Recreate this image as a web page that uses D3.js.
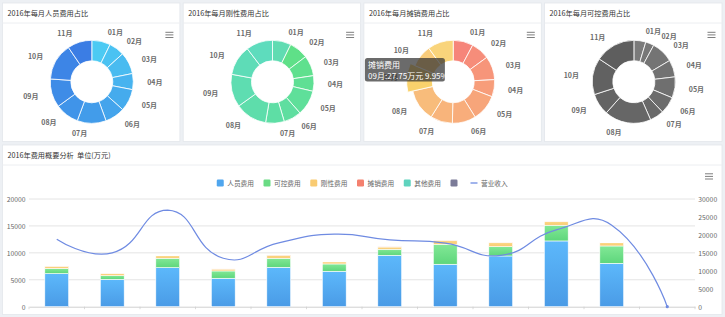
<!DOCTYPE html>
<html><head><meta charset="utf-8">
<script src="https://cdn.jsdelivr.net/npm/d3@7"></script>
<style>
html,body{margin:0;padding:0;background:#edf0f4;}
svg{display:block;font-family:"Noto Sans CJK SC","Noto Sans",sans-serif;}
</style></head><body>
<svg id="c" width="725" height="317"></svg>
<script>
// ---------------- data ----------------
const months = ["01月","02月","03月","04月","05月","06月","07月","08月","09月","10月","11月"];
const categories = ["01月","02月","03月","04月","05月","06月","07月","08月","09月","10月","11月","12月"];
const personnelCost    = [6150, 5090, 7250, 5280, 7320, 6580, 9550, 7880, 9420, 12210, 8060, 0];
const controllableCost = [ 950,  670, 1750, 1360, 1680, 1360, 1120, 3720, 1730, 2920, 3220, 0];
const rigidCost        = [ 420,  430,  460,  350,  570,  400,  420,  720,  740,  680,  600, 0];
const amortizationCost = [21.7, 20.1, 25.6, 18.6, 28.7, 25.6, 24.0, 34.9, 27.75, 24.0, 27.9, 0];
const otherCost        = [0, 0, 0, 0, 0, 0, 0, 0, 0, 0, 0, 0];
const revenue          = [18800, 15000, 26900, 13500, 17800, 20200, 18600, 17700, 14300, 21400, 22700, 0];
const leftTicks  = [0, 5000, 10000, 15000, 20000];
const rightTicks = [0, 5000, 10000, 15000, 20000, 25000, 30000];
const pieTitles = ["2016年每月人员费用占比","2016年每月刚性费用占比","2016年每月摊销费用占比","2016年每月可控费用占比"];
const pieSeriesNames = ["人员费用","刚性费用","摊销费用","可控费用"];
const legendNames = ["人员费用","可控费用","刚性费用","摊销费用","其他费用","","营业收入"];
const bottomTitle = "2016年费用概要分析  单位(万元)";
const highlightMonth = 8; // 09月 on 摊销费用 pie (tooltip shown)

// ---------------- styles ----------------
const pieColorFns = [
  i => d3.interpolateRgb("#4ccaf3", "#3b7de4")(i/10),
  i => i === 0 ? "#60dcb2" : d3.interpolateRgb("#5fe088", "#5edcbd")((i-1)/9),
  i => d3.interpolateRgb("#f6857a", "#f9d47b")(i/10),
  i => d3.interpolateRgb("#7a7a7a", "#5e5e5e")(i/10)
];
const seriesColors = ["#50a6ee","#6adb84","#f9cb72","#f4816f","#5fd3be","#7b7b98"];
const lineColor = "#6f8be2";

const svg = d3.select("#c");
const defs = svg.append("defs");
function grad(id, top, bottom){
  const g = defs.append("linearGradient").attr("id", id).attr("x1",0).attr("y1",0).attr("x2",0).attr("y2",1);
  g.append("stop").attr("offset","0%").attr("stop-color", top);
  g.append("stop").attr("offset","100%").attr("stop-color", bottom);
}
grad("gBlue", "#5cb8fb", "#4a9be6");
grad("gGreen", "#82e896", "#5ed67c");
grad("gYellow", "#fcd98a", "#f9c96e");
grad("gRed", "#f58a78", "#f4806f");
grad("gTeal", "#63d8c4", "#5cd0bb");
grad("gDark", "#7e7e9a", "#767694");
const fills = ["url(#gBlue)","url(#gGreen)","url(#gYellow)","url(#gRed)","url(#gTeal)","url(#gDark)"];

svg.append("rect").attr("width",725).attr("height",317).attr("fill","#edf0f4");

function panel(x, y, w, h, title, titleY, divY){
  const g = svg.append("g");
  g.append("rect").attr("x",x).attr("y",y).attr("width",w).attr("height",h)
    .attr("fill","#fff").attr("stroke","#e3e7ec").attr("stroke-width",0.8);
  g.append("line").attr("x1",x).attr("x2",x+w).attr("y1",divY).attr("y2",divY)
    .attr("stroke","#eceef1").attr("stroke-width",1);
  g.append("text").attr("x",x+5).attr("y",titleY).attr("dominant-baseline","central")
    .attr("font-size",7.2).attr("fill","#333").attr("xml:space","preserve").text(title);
  return g;
}
function burger(g, x, y){
  [0,2.6,5.2].forEach(dy=>{
    g.append("line").attr("x1",x).attr("x2",x+8).attr("y1",y+dy).attr("y2",y+dy)
      .attr("stroke","#6f6f6f").attr("stroke-width",0.9);
  });
}

// ---------------- pies ----------------
const pieData = [personnelCost, rigidCost, amortizationCost, controllableCost].map(a => a.slice(0, 11));
const pW = 177.4, pGap = 3.3, pTop = 3, pH = 138.5;
pieData.forEach((vals, k) => {
  const x0 = 2.5 + k*(pW + pGap);
  const g = panel(x0, pTop, pW, pH, pieTitles[k], 13.2, 23);
  burger(g, x0 + pW - 14.5, 32.3);
  const cx = x0 + pW/2 + 0.6, cy = 81.8;
  const pie = d3.pie().sort(null).value(d => d)(vals);
  const arc = d3.arc().innerRadius(21).outerRadius(41.5);
  const arcHi = d3.arc().innerRadius(21).outerRadius(46.5);
  const pg = g.append("g").attr("transform", `translate(${cx},${cy})`);
  pg.selectAll("path").data(pie).enter().append("path")
    .attr("d", (d,i) => (k === 2 && i === highlightMonth) ? arcHi(d) : arc(d))
    .attr("fill", (d,i) => (k === 2 && i === highlightMonth) ? "#f9d26c" : pieColorFns[k](i))
    .attr("stroke","#fff").attr("stroke-width",0.8);
  // label layout with simple overlap avoidance (per side)
  const R = 51, minGap = 5;
  const labels = pie.map((d,i) => {
    const m = (d.startAngle + d.endAngle)/2;
    return {i, side: Math.sin(m) >= 0 ? 1 : -1, y: -R*Math.cos(m)};
  });
  [1,-1].forEach(side => {
    const ls = labels.filter(l => l.side === side).sort((a,b) => a.y - b.y);
    for (let j = 1; j < ls.length; j++) if (ls[j].y - ls[j-1].y < minGap) ls[j].y = ls[j-1].y + minGap;
  });
  labels.forEach(l => { l.x = l.side * (Math.sqrt(Math.max(0, R*R - l.y*l.y)) + 12); });
  pg.selectAll("text").data(labels).enter().append("text")
    .attr("x", l => l.x).attr("y", l => l.y)
    .attr("text-anchor","middle").attr("dominant-baseline","central")
    .attr("font-size",7).attr("font-weight","bold").attr("fill","#6a6a6a")
    .text(l => months[l.i]);
  if (k === 2) {
    const total = d3.sum(vals);
    const v = vals[highlightMonth];
    const tg = g.append("g");
    tg.append("rect").attr("x", x0 + 1).attr("y", 58).attr("width", 80).attr("height", 23.5)
      .attr("rx", 2.5).attr("fill","rgba(50,50,50,0.72)");
    tg.append("text").attr("x", x0 + 4.2).attr("y", 64.8).attr("dominant-baseline","central")
      .attr("font-size",8).attr("fill","#fff").text(pieSeriesNames[k]);
    tg.append("text").attr("x", x0 + 4.2).attr("y", 75).attr("dominant-baseline","central")
      .attr("font-size",8).attr("fill","#fff")
      .text(`${months[highlightMonth]}:${v.toFixed(2)}万元 ${(v/total*100).toFixed(2)}%`);
  }
});

// ---------------- bottom chart ----------------
const bx0 = 2.5, bW = 719.5, bTop = 145, bH = 169.5;
const bg = panel(bx0, bTop, bW, bH, bottomTitle, 155.3, 165);
burger(bg, 705, 173.8);

const plotL = 29, plotR = 695, plotT = 199, plotB = 306.7;
const x = d3.scaleBand().domain(categories).range([plotL, plotR]).paddingInner(0).paddingOuter(0);
const yL = d3.scaleLinear().domain([0, 20000]).range([plotB, plotT]);
const yR = d3.scaleLinear().domain([0, 30000]).range([plotB, plotT]);

// grid
bg.append("g").selectAll("line").data(leftTicks.slice(1)).enter().append("line")
  .attr("x1", plotL).attr("x2", plotR).attr("y1", d => yL(d)).attr("y2", d => yL(d))
  .attr("stroke","#e4e4e4").attr("stroke-width",1);

// left axis labels
bg.append("g").selectAll("text").data(leftTicks).enter().append("text")
  .attr("x", 25.5).attr("y", d => yL(d)).attr("text-anchor","end").attr("dominant-baseline","central")
  .attr("font-size",6.8).attr("fill","#666").text(d => d);
// right axis labels
bg.append("g").selectAll("text").data(rightTicks).enter().append("text")
  .attr("x", 698.3).attr("y", d => yR(d)).attr("text-anchor","start").attr("dominant-baseline","central")
  .attr("font-size",6.8).attr("fill","#666").text(d => d);

// x axis
const xAxis = d3.axisBottom(x).tickSize(0).tickFormat("");
const xa = bg.append("g").attr("transform", `translate(0,${plotB})`).call(xAxis);
xa.select(".domain").attr("stroke","#d0d0d0").attr("stroke-width",1);
xa.selectAll(".tick").remove();
bg.append("g").selectAll("line").data(d3.range(categories.length + 1)).enter().append("line")
  .attr("x1", i => plotL + i*x.step()).attr("x2", i => plotL + i*x.step())
  .attr("y1", plotB).attr("y2", plotB + 2.5).attr("stroke","#d0d0d0").attr("stroke-width",0.8);

// stacked bars
const keys = ["p","c","r","a","o"];
const rows = categories.map((c, i) => ({cat: c, p: personnelCost[i], c: controllableCost[i], r: rigidCost[i], a: amortizationCost[i], o: otherCost[i]}));
const stacked = d3.stack().keys(keys)(rows);
const barW = x.bandwidth() * 0.43;
stacked.forEach((layer, li) => {
  bg.append("g").selectAll("rect").data(layer.filter(d => d[1] - d[0] > 0)).enter().append("rect")
    .attr("x", d => x(d.data.cat) + (x.bandwidth() - barW)/2)
    .attr("width", barW)
    .attr("y", d => yL(d[1]))
    .attr("height", d => yL(d[0]) - yL(d[1]))
    .attr("fill", fills[li])
    .attr("stroke", "#fff").attr("stroke-width", 0.6);
});

// ECharts-like smoothing curve
function echartsSmooth(context){
  let pts;
  return {
    areaStart(){}, areaEnd(){},
    lineStart(){ pts = []; },
    point(px, py){ pts.push([+px, +py]); },
    lineEnd(){
      const n = pts.length; if (!n) return;
      const s = 0.5;
      const minX = d3.min(pts, p=>p[0]), maxX = d3.max(pts, p=>p[0]);
      const minY = d3.min(pts, p=>p[1]), maxY = d3.max(pts, p=>p[1]);
      const cx = v => Math.max(minX, Math.min(maxX, v));
      const cy = v => Math.max(minY, Math.min(maxY, v));
      context.moveTo(pts[0][0], pts[0][1]);
      let cp0 = pts[0].slice();
      for (let i = 1; i < n; i++) {
        const p = pts[i], prev = pts[i-1], next = pts[i+1];
        let cp1, v = [0,0], ratio = 0.5;
        if (!next) { cp1 = p.slice(); }
        else {
          v = [next[0]-prev[0], next[1]-prev[1]];
          const d0 = Math.hypot(p[0]-prev[0], p[1]-prev[1]);
          const d1 = Math.hypot(next[0]-p[0], next[1]-p[1]);
          ratio = d1 / (d0 + d1);
          cp1 = [p[0] - v[0]*s*(1-ratio), p[1] - v[1]*s*(1-ratio)];
        }
        context.bezierCurveTo(cx(cp0[0]), cy(cp0[1]), cx(cp1[0]), cy(cp1[1]), p[0], p[1]);
        cp0 = [p[0] + v[0]*s*ratio, p[1] + v[1]*s*ratio];
      }
    }
  };
}
const line = d3.line().x((d,i) => x(categories[i]) + x.bandwidth()/2).y(d => yR(d)).curve(echartsSmooth);
bg.append("path").attr("d", line(revenue)).attr("fill","none").attr("stroke", lineColor).attr("stroke-width",1.2);
const last = revenue.length - 1;
bg.append("circle").attr("cx", x(categories[last]) + x.bandwidth()/2).attr("cy", yR(revenue[last]))
  .attr("r", 1.6).attr("fill", lineColor);

// legend
const lg = bg.append("g");
let cursor = 0;
const legendY = 183;
legendNames.forEach((name, i) => {
  const it = lg.append("g");
  if (i < 6) {
    it.append("rect").attr("x",0).attr("y",legendY-3.5).attr("width",7).attr("height",7).attr("rx",1.2)
      .attr("fill", seriesColors[i]);
  } else {
    it.append("line").attr("x1",0).attr("x2",7).attr("y1",legendY).attr("y2",legendY)
      .attr("stroke", lineColor).attr("stroke-width",1.3);
  }
  const t = it.append("text").attr("x",10.5).attr("y",legendY).attr("dominant-baseline","central")
    .attr("font-size",6.7).attr("fill","#666").text(name);
  const tw = name ? t.node().getComputedTextLength() : 0;
  it.attr("transform", `translate(${cursor},0)`);
  cursor += 10.5 + tw + 9.5;
});
const legendW = cursor - 9.5;
lg.attr("transform", `translate(${bx0 + bW/2 - legendW/2},0)`);
</script>
</body></html>
